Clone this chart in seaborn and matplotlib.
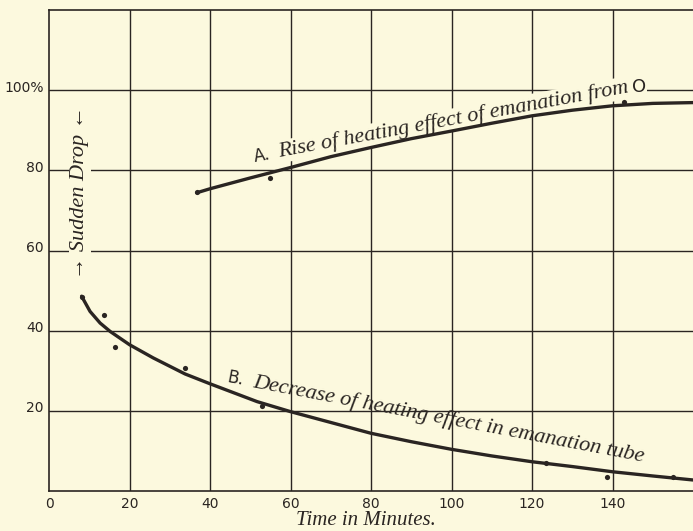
import matplotlib
matplotlib.use("Agg")
import matplotlib.pyplot as plt
import matplotlib.transforms as mtransforms
import numpy as np
import pandas as pd
import seaborn as sns

# curve A - rise of heating effect of emanation (smooth curve)
a_time = [36.7, 40, 50, 60, 70, 80, 90, 100, 110, 120, 130, 140, 150, 160]
a_pct = [74.4, 75.4, 78.1, 80.7, 83.4, 85.7, 87.9, 89.8, 91.75, 93.6, 95.0, 96.1, 96.7, 96.9]
# observed points on A
a_obs_time = [36.8, 55.0, 142.8]
a_obs_pct = [74.5, 78.2, 97.0]

# curve B - decrease of heating effect in emanation tube
b_time = [8.1, 10.2, 12.7, 15.2, 20, 25.9, 33.8, 40, 51.7, 60, 70, 80, 90, 100, 110, 120, 130, 140, 150, 160]
b_pct = [48.6, 44.8, 41.9, 39.8, 36.5, 33.2, 29.2, 26.75, 22.3, 19.8, 17.1, 14.4, 12.3, 10.4, 8.75, 7.3, 6.1, 4.8, 3.75, 2.75]
b_obs_time = [8.2, 13.7, 16.4, 33.8, 52.9, 123.6, 138.7, 155.0]
b_obs_pct = [48.5, 44.0, 36.0, 30.7, 21.2, 7.0, 3.5, 3.5]

x_ticks = [0, 20, 40, 60, 80, 100, 120, 140]
y_ticks = [20, 40, 60, 80, 100]
y_labels = ["20", "40", "60", "80", "100%"]

bg = "#fcf9de"
ink = "#2a2522"

sns.set_style("white", {"axes.facecolor": bg, "figure.facecolor": bg})

fig = plt.figure(figsize=(6.93, 5.31), dpi=100)
ax = fig.add_axes([49 / 693, 40 / 531, 1 - 49 / 693, (491 - 10) / 531])

curve_a = pd.DataFrame({"t": a_time, "p": a_pct})
curve_b = pd.DataFrame({"t": b_time, "p": b_pct})
sns.lineplot(data=curve_a, x="t", y="p", color=ink, lw=2.4, ax=ax, zorder=6)
sns.lineplot(data=curve_b, x="t", y="p", color=ink, lw=2.4, ax=ax, zorder=6)
sns.scatterplot(x=a_obs_time, y=a_obs_pct, color=ink, s=14, linewidth=0, ax=ax, zorder=7)
sns.scatterplot(x=b_obs_time, y=b_obs_pct, color=ink, s=14, linewidth=0, ax=ax, zorder=7)

ax.set_xlim(0, 160)
ax.set_ylim(0, 120)
for v in range(20, 160, 20):
    ax.axvline(v, color=ink, lw=1.0, zorder=1)
for v in range(20, 120, 20):
    ax.axhline(v, color=ink, lw=1.0, zorder=1)
for side in ["left", "bottom", "top"]:
    ax.spines[side].set_color(ink)
    ax.spines[side].set_linewidth(1.2)
ax.spines["right"].set_visible(False)

ax.set_xticks(x_ticks)
ax.set_yticks(y_ticks)
ax.set_yticklabels(y_labels)
ax.tick_params(length=0, labelsize=10, labelcolor=ink, pad=4)
for lab in ax.get_xticklabels() + ax.get_yticklabels():
    lab.set_family("DejaVu Sans")
shift = mtransforms.ScaledTranslation(0, 3 / 72, fig.dpi_scale_trans)
for lab in ax.get_yticklabels():
    lab.set_transform(lab.get_transform() + shift)

ax.set_xlabel("")
ax.set_ylabel("")
fig.text(366 / 693, 6 / 531, "Time in Minutes.", family="Liberation Serif",
         style="italic", fontsize=15, color=ink, ha="center", va="baseline")

box = dict(facecolor=bg, edgecolor="none", pad=1.0)
serif = dict(family="Liberation Serif", style="italic", fontsize=16, color=ink)


def along(angle, dist):
    return dist * np.cos(np.radians(angle)), dist * np.sin(np.radians(angle))


# label A
ang_a = 10.5
ax.annotate("A.", (51.2, 82.2), xytext=(0, 0), textcoords="offset points",
            rotation=ang_a, rotation_mode="anchor", ha="left", va="baseline",
            family="DejaVu Sans", fontsize=12, color=ink, bbox=box, zorder=5)
ax.annotate("Rise of heating effect of emanation from",
            (51.2, 82.2), xytext=along(ang_a, 18), textcoords="offset points",
            rotation=ang_a, rotation_mode="anchor",
            ha="left", va="baseline", bbox=box, zorder=5, **serif)
ax.text(146.5, 100.7, "O", family="DejaVu Sans", fontsize=13,
        color=ink, ha="center", va="center", bbox=box, zorder=5)

# label B
ang_b = -10.8
ax.annotate("B.", (44.0, 27.2), xytext=(0, 0), textcoords="offset points",
            rotation=ang_b, rotation_mode="anchor", ha="left", va="baseline",
            family="DejaVu Sans", fontsize=12, color=ink, zorder=5)
ax.annotate("Decrease of heating effect in emanation tube",
            (44.0, 27.2), xytext=along(ang_b, 19), textcoords="offset points",
            rotation=ang_b, rotation_mode="anchor",
            ha="left", va="baseline", zorder=5, **serif)

# sudden drop marker
ax.text(7.7, 74.5, "\u2192 Sudden Drop \u2190", rotation=90, ha="center", va="center",
        bbox=box, zorder=5, **serif)

fig.savefig("out.png", dpi=100, facecolor=bg)
